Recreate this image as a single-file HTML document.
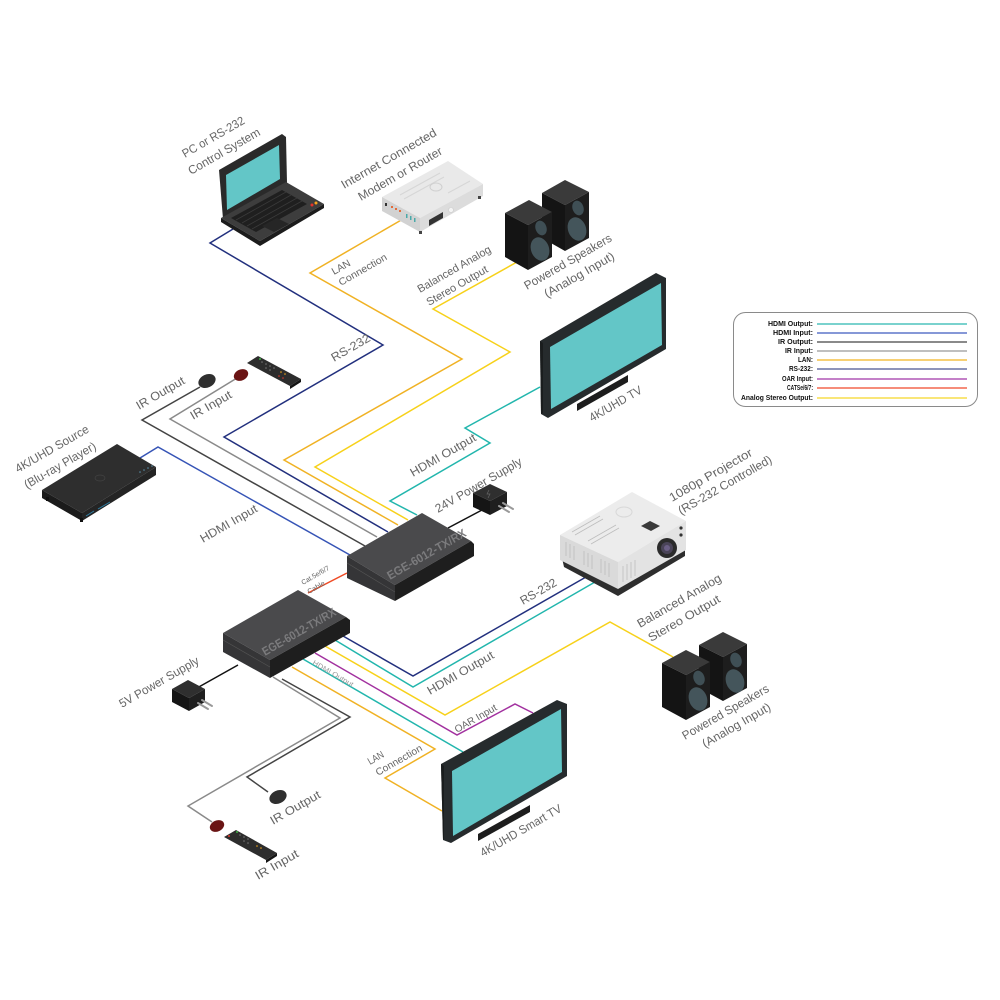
<!DOCTYPE html>
<html><head><meta charset="utf-8"><style>
html,body{margin:0;padding:0;background:#fff;}
svg{display:block;}
text{font-family:"Liberation Sans",sans-serif;}
</style></head><body>
<svg width="1000" height="1000" viewBox="0 0 1000 1000" xmlns="http://www.w3.org/2000/svg">
<rect width="1000" height="1000" fill="#fff"/>

<!-- ============ CONNECTOR LINES ============ -->
<g fill="none" stroke-width="1.5" stroke-linejoin="miter">
 <polyline points="233,229 210,243 383,345 224,437 388,532" stroke="#22307e"/>
 <polyline points="403,219 310,273 462,359 284,460 398,525" stroke="#f0b224"/>
 <polyline points="517,262 433,309 510,352 315,467 408,520" stroke="#f7d11a"/>
 <polyline points="540,387 465,428 490,443 390,501 417,515" stroke="#22b6ad"/>
 <polyline points="200,387 142,420 365,546" stroke="#444"/>
 <polyline points="237,378 170,419 377,537" stroke="#8a8a8a"/>
 <polyline points="140,458 158,447 350,555" stroke="#3654b6"/>
 <polyline points="308,593 347,573" stroke="#ef4a24"/>
 <polyline points="448,528 482,510" stroke="#111"/>
 <polyline points="343,636 413,676 586,577" stroke="#22307e"/>
 <polyline points="335,640 413,687 595,582" stroke="#22b6ad"/>
 <polyline points="325,646 445,715 610,622 673,657" stroke="#f7d11a"/>
 <polyline points="315,653 457,735 515,704 533,713" stroke="#a2319f"/>
 <polyline points="303,659 463,752" stroke="#22b6ad"/>
 <polyline points="292,667 435,749 385,778 442,811" stroke="#f0b224"/>
 <polyline points="282,679 350,717 247,777 268,792" stroke="#444"/>
 <polyline points="273,677 340,718 188,806 212,822" stroke="#8a8a8a"/>
 <polyline points="238,665 197,688" stroke="#111"/>
</g>

<!-- ============ LAPTOP ============ -->
<g>
 <polygon points="219,170 282,134 286,137 287,183 223,219" fill="#2a2a2a"/>
 <polygon points="226,175 279,145 280,179 227,210" fill="#63c6c7"/>
 <polygon points="221,218 286,182 324,204 260,241" fill="#3d3d3d"/>
 <polygon points="221,218 260,241 324,204 324,208 260,246 221,222" fill="#1c1c1c"/>
 <polygon points="231,218 282,190 307,204 256,232" fill="#1f1f1f"/>
 <g stroke="#3a3a3a" stroke-width="0.8">
  <line x1="236" y1="220" x2="286" y2="192"/><line x1="242" y1="223" x2="291" y2="195"/>
  <line x1="247" y1="226" x2="297" y2="198"/><line x1="252" y1="229" x2="302" y2="201"/>
 </g>
 <polygon points="262,226 277,218 289,224 274,232" fill="#262626"/>
 <circle cx="312" cy="205" r="1.5" fill="#e5332a"/><circle cx="316" cy="203" r="1.5" fill="#f5a21b"/>
</g>

<!-- ============ MODEM ============ -->
<g>
 <polygon points="382,197 448,161 483,184 420,218" fill="#e9e9e9"/>
 <polygon points="382,197 420,218 420,232 382,211" fill="#d2d2d2"/>
 <polygon points="420,218 483,184 483,196 420,232" fill="#dcdcdc"/>
 <g stroke="#d6d6d6" stroke-width="1"><line x1="400" y1="195" x2="440" y2="173"/><line x1="404" y1="199" x2="444" y2="177"/><line x1="448" y1="193" x2="470" y2="181"/></g>
 <ellipse cx="436" cy="187" rx="6" ry="4" fill="none" stroke="#cfcfcf"/>
 <rect x="385" y="203" width="2" height="3" fill="#333"/>
 <g fill="#e36b3a"><rect x="391" y="206" width="2" height="2"/><rect x="395" y="208" width="2" height="2"/><rect x="399" y="210" width="2" height="2"/></g>
 <g fill="#4aa9a9"><rect x="406" y="214" width="1.5" height="4"/><rect x="410" y="216" width="1.5" height="4"/><rect x="414" y="218" width="1.5" height="4"/></g>
 <polygon points="429,220 443,212 443,218 429,226" fill="#333"/>
 <circle cx="451" cy="210" r="2.5" fill="#f3f3f3" stroke="#ccc" stroke-width="0.6"/>
 <rect x="419" y="231" width="3" height="3" fill="#444"/><rect x="478" y="196" width="3" height="3" fill="#444"/>
</g>

<!-- ============ TOP SPEAKERS ============ -->
<g>
 <polygon points="542,193 565,180 589,192 565,205" fill="#3a3a3a"/>
 <polygon points="542,193 565,205 565,251 542,238" fill="#141414"/>
 <polygon points="565,205 589,192 589,238 565,251" fill="#1d1d1d"/>
 <ellipse cx="578" cy="208" rx="5.5" ry="7.5" transform="rotate(-20 578 208)" fill="#3f4f55"/>
 <ellipse cx="577" cy="229" rx="9" ry="12" transform="rotate(-20 577 229)" fill="#44555b"/>
 <polygon points="505,213 529,200 552,212 528,225" fill="#3a3a3a"/>
 <polygon points="505,213 528,225 528,270 505,257" fill="#141414"/>
 <polygon points="528,225 552,212 552,257 528,270" fill="#1d1d1d"/>
 <ellipse cx="541" cy="228" rx="5.5" ry="7.5" transform="rotate(-20 541 228)" fill="#3f4f55"/>
 <ellipse cx="540" cy="249" rx="9" ry="12" transform="rotate(-20 540 249)" fill="#44555b"/>
</g>

<!-- ============ TOP TV ============ -->
<g>
 <polygon points="577,404 628,375 628,382 577,411" fill="#1d1d1d"/>
 <polygon points="540,341 656,273 666,278 666,349 548,418 541,414" fill="#262b2d"/>
 <polygon points="540,341 543,343 543,413 541,414" fill="#1a1d1e"/>
 <polygon points="550,347 661,283 662,345 551,409" fill="#63c6c7"/>
</g>

<!-- ============ BLU-RAY ============ -->
<g>
 <polygon points="42,490 117,444 156,467 82,513" fill="#2e2e2e"/>
 <polygon points="42,490 82,513 82,521 42,498" fill="#1b1b1b"/>
 <polygon points="82,513 156,467 156,475 82,521" fill="#242424"/>
 <ellipse cx="100" cy="478" rx="5" ry="3" fill="none" stroke="#444" stroke-width="0.7"/>
 <g stroke="#2f7fa5" stroke-width="1"><line x1="86" y1="516" x2="94" y2="511"/><line x1="98" y1="509" x2="110" y2="502"/></g>
 <g fill="#5a8fa8"><circle cx="140" cy="472" r="0.8"/><circle cx="144" cy="470" r="0.8"/><circle cx="148" cy="468" r="0.8"/><circle cx="152" cy="466" r="0.8"/></g>
 <rect x="46" y="497" width="3" height="4" fill="#111"/><rect x="80" y="518" width="3" height="4" fill="#111"/>
</g>

<!-- ============ TOP IR DEVICES ============ -->
<g>
 <ellipse cx="207" cy="381" rx="9" ry="6.5" transform="rotate(-25 207 381)" fill="#2f2f2f"/>
 <ellipse cx="241" cy="375" rx="7.5" ry="5.5" transform="rotate(-25 241 375)" fill="#6a1414"/>
 <polygon points="247,363 258,356 301,379 290,386" fill="#2d2d2d"/>
 <polygon points="290,386 301,379 301,382 290,389" fill="#151515"/>
 <g fill="#777"><circle cx="262" cy="362" r="0.8"/><circle cx="266" cy="364" r="0.8"/><circle cx="270" cy="366" r="0.8"/><circle cx="266" cy="368" r="0.8"/><circle cx="270" cy="370" r="0.8"/><circle cx="274" cy="368" r="0.8"/></g>
 <circle cx="260" cy="359" r="1" fill="#3cb043"/>
 <g fill="#f2a71b"><circle cx="281" cy="372" r="0.8"/><circle cx="285" cy="374" r="0.8"/></g>
 <g fill="#e13a2b"><circle cx="279" cy="376" r="0.8"/><circle cx="283" cy="378" r="0.8"/></g>
</g>

<!-- ============ 24V POWER SUPPLY ============ -->
<g>
 <polygon points="473,493 490,484 507,492 490,501" fill="#2f2f2f"/>
 <polygon points="473,493 490,501 490,515 473,507" fill="#151515"/>
 <polygon points="490,501 507,492 507,506 490,515" fill="#1f1f1f"/>
 <g stroke="#999" stroke-width="2" stroke-linecap="round"><line x1="499" y1="506" x2="509" y2="512"/><line x1="503" y1="503" x2="513" y2="509"/></g>
 <path d="M489 490 l-2 4 l3 0 l-2 4" stroke="#666" fill="none" stroke-width="0.7"/>
</g>

<!-- ============ TOP EGE BOX ============ -->
<g>
 <polygon points="347,556 422,513 471,541 395,585" fill="#4a4a4c"/>
 <polygon points="347,556 395,585 395,601 347,578" fill="#353537"/>
 <polygon points="395,585 471,541 474,544 474,556 395,601" fill="#1e1e1e"/>
 <line x1="347" y1="563" x2="395" y2="592" stroke="#555" stroke-width="0.6"/>
 <text x="390" y="580" font-size="12" font-weight="bold" fill="#7b7b7d" textLength="89" lengthAdjust="spacingAndGlyphs" transform="rotate(-30 390 580)">EGE-6012-TX/RX</text>
</g>

<!-- ============ PROJECTOR ============ -->
<g>
 <polygon points="562,558 618,588 685,549 685,556 618,596 564,567" fill="#2e2e2e"/>
 <polygon points="560,535 632,492 686,521 618,562" fill="#ececec"/>
 <polygon points="560,535 618,562 618,589 560,560" fill="#dadada"/>
 <polygon points="618,562 686,521 686,550 618,589" fill="#e3e3e3"/>
 <ellipse cx="624" cy="512" rx="8" ry="5" fill="none" stroke="#d8d8d8"/>
 <polygon points="641,526 650,521 660,526 651,531" fill="#3a3a3a"/>
 <g stroke="#bdbdbd" stroke-width="0.8">
  <line x1="572" y1="532" x2="600" y2="516"/><line x1="575" y1="535" x2="603" y2="519"/>
  <line x1="588" y1="541" x2="616" y2="525"/><line x1="591" y1="544" x2="619" y2="528"/>
  <line x1="566" y1="542" x2="566" y2="556"/><line x1="570" y1="544" x2="570" y2="558"/><line x1="574" y1="546" x2="574" y2="560"/>
  <line x1="584" y1="551" x2="584" y2="565"/><line x1="588" y1="553" x2="588" y2="567"/><line x1="592" y1="555" x2="592" y2="569"/>
  <line x1="601" y1="559" x2="601" y2="573"/><line x1="605" y1="561" x2="605" y2="575"/><line x1="609" y1="563" x2="609" y2="577"/>
  <line x1="623" y1="566" x2="623" y2="582"/><line x1="627" y1="564" x2="627" y2="580"/><line x1="631" y1="562" x2="631" y2="578"/><line x1="635" y1="560" x2="635" y2="576"/>
 </g>
 <circle cx="667" cy="548" r="10" fill="#2b2b2b"/>
 <circle cx="667" cy="548" r="6" fill="#4a4458"/>
 <circle cx="667" cy="548" r="3" fill="#6b5f85"/>
 <circle cx="681" cy="528" r="1.6" fill="#333"/><circle cx="681" cy="535" r="1.6" fill="#333"/>
</g>

<!-- ============ BOTTOM EGE BOX ============ -->
<g>
 <polygon points="223,633 298,590 346,617 270,660" fill="#4a4a4c"/>
 <polygon points="223,633 270,660 270,678 223,652" fill="#353537"/>
 <polygon points="270,660 346,617 350,620 350,633 270,678" fill="#1e1e1e"/>
 <line x1="223" y1="640" x2="270" y2="667" stroke="#555" stroke-width="0.6"/>
 <text x="265" y="656" font-size="12" font-weight="bold" fill="#7b7b7d" textLength="83" lengthAdjust="spacingAndGlyphs" transform="rotate(-30 265 656)">EGE-6012-TX/RX</text>
</g>

<!-- ============ 5V POWER SUPPLY ============ -->
<g>
 <polygon points="172,689 188,680 205,689 189,698" fill="#2f2f2f"/>
 <polygon points="172,689 189,698 189,711 172,702" fill="#151515"/>
 <polygon points="189,698 205,689 205,702 189,711" fill="#1f1f1f"/>
 <g stroke="#999" stroke-width="2" stroke-linecap="round"><line x1="198" y1="703" x2="208" y2="709"/><line x1="202" y1="700" x2="212" y2="706"/></g>
</g>

<!-- ============ BOTTOM SPEAKERS ============ -->
<g>
 <polygon points="699,645 723,632 747,644 723,657" fill="#3a3a3a"/>
 <polygon points="699,645 723,657 723,701 699,688" fill="#141414"/>
 <polygon points="723,657 747,644 747,688 723,701" fill="#1d1d1d"/>
 <ellipse cx="736" cy="660" rx="5.5" ry="7.5" transform="rotate(-20 736 660)" fill="#3f4f55"/>
 <ellipse cx="735" cy="681" rx="9" ry="12" transform="rotate(-20 735 681)" fill="#44555b"/>
 <polygon points="662,663 686,650 710,662 686,675" fill="#3a3a3a"/>
 <polygon points="662,663 686,675 686,720 662,707" fill="#141414"/>
 <polygon points="686,675 710,662 710,707 686,720" fill="#1d1d1d"/>
 <ellipse cx="699" cy="678" rx="5.5" ry="7.5" transform="rotate(-20 699 678)" fill="#3f4f55"/>
 <ellipse cx="698" cy="699" rx="9" ry="12" transform="rotate(-20 698 699)" fill="#44555b"/>
</g>

<!-- ============ SMART TV ============ -->
<g>
 <polygon points="478,834 530,805 530,812 478,841" fill="#1d1d1d"/>
 <polygon points="441,764 557,700 567,704 567,776 451,843 443,840" fill="#262b2d"/>
 <polygon points="441,764 444,766 444,838 443,840" fill="#1a1d1e"/>
 <polygon points="452,771 561,709 562,772 453,836" fill="#63c6c7"/>
</g>

<!-- ============ BOTTOM IR DEVICES ============ -->
<g>
 <ellipse cx="278" cy="797" rx="9" ry="6.5" transform="rotate(-25 278 797)" fill="#2f2f2f"/>
 <ellipse cx="217" cy="826" rx="7.5" ry="5.5" transform="rotate(-25 217 826)" fill="#6a1414"/>
 <polygon points="224,837 236,830 277,853 266,860" fill="#2d2d2d"/>
 <polygon points="266,860 277,853 277,856 266,863" fill="#151515"/>
 <g fill="#777"><circle cx="240" cy="835" r="0.8"/><circle cx="244" cy="837" r="0.8"/><circle cx="248" cy="839" r="0.8"/><circle cx="244" cy="841" r="0.8"/><circle cx="248" cy="843" r="0.8"/></g>
 <circle cx="237" cy="832" r="1" fill="#3cb043"/><circle cx="229" cy="836" r="1" fill="#e13a2b"/>
 <g fill="#f2a71b"><circle cx="257" cy="846" r="0.8"/><circle cx="261" cy="848" r="0.8"/></g>
</g>

<!-- ============ LABELS ============ -->
<g font-size="12" fill="#666">
 <text x="185" y="158" textLength="70" lengthAdjust="spacingAndGlyphs" transform="rotate(-30 185 158)">PC or RS-232</text>
 <text x="191" y="175" textLength="81" lengthAdjust="spacingAndGlyphs" transform="rotate(-30 191 175)">Control System</text>
 <text x="344" y="189" textLength="108" lengthAdjust="spacingAndGlyphs" transform="rotate(-30 344 189)">Internet Connected</text>
 <text x="361" y="201" textLength="95" lengthAdjust="spacingAndGlyphs" transform="rotate(-30 361 201)">Modem or Router</text>
 <text x="334" y="275" font-size="10" textLength="20" lengthAdjust="spacingAndGlyphs" transform="rotate(-30 334 275)">LAN</text>
 <text x="341" y="286" font-size="10" textLength="54" lengthAdjust="spacingAndGlyphs" transform="rotate(-30 341 286)">Connection</text>
 <text x="420" y="293" font-size="11" textLength="83" lengthAdjust="spacingAndGlyphs" transform="rotate(-30 420 293)">Balanced Analog</text>
 <text x="429" y="306" font-size="11" textLength="69" lengthAdjust="spacingAndGlyphs" transform="rotate(-30 429 306)">Stereo Output</text>
 <text x="527" y="290" textLength="99" lengthAdjust="spacingAndGlyphs" transform="rotate(-30 527 290)">Powered Speakers</text>
 <text x="547" y="298" textLength="79" lengthAdjust="spacingAndGlyphs" transform="rotate(-30 547 298)">(Analog Input)</text>
 <text x="334" y="362" textLength="43" lengthAdjust="spacingAndGlyphs" transform="rotate(-30 334 362)">RS-232</text>
 <text x="139" y="410" textLength="54" lengthAdjust="spacingAndGlyphs" transform="rotate(-30 139 410)">IR Output</text>
 <text x="193" y="420" textLength="46" lengthAdjust="spacingAndGlyphs" transform="rotate(-30 193 420)">IR Input</text>
 <text x="18" y="473" textLength="83" lengthAdjust="spacingAndGlyphs" transform="rotate(-30 18 473)">4K/UHD Source</text>
 <text x="27" y="489" textLength="81" lengthAdjust="spacingAndGlyphs" transform="rotate(-30 27 489)">(Blu-ray Player)</text>
 <text x="203" y="543" textLength="64" lengthAdjust="spacingAndGlyphs" transform="rotate(-30 203 543)">HDMI Input</text>
 <text x="413" y="477" textLength="74" lengthAdjust="spacingAndGlyphs" transform="rotate(-30 413 477)">HDMI Output</text>
 <text x="438" y="513" textLength="98" lengthAdjust="spacingAndGlyphs" transform="rotate(-30 438 513)">24V Power Supply</text>
 <text x="592" y="422" textLength="59" lengthAdjust="spacingAndGlyphs" transform="rotate(-30 592 422)">4K/UHD TV</text>
 <text x="672" y="502" textLength="94" lengthAdjust="spacingAndGlyphs" transform="rotate(-30 672 502)">1080p Projector</text>
 <text x="681" y="515" textLength="106" lengthAdjust="spacingAndGlyphs" transform="rotate(-30 681 515)">(RS-232 Controlled)</text>
 <text x="523" y="605" textLength="40" lengthAdjust="spacingAndGlyphs" transform="rotate(-30 523 605)">RS-232</text>
 <text x="640" y="628" textLength="95" lengthAdjust="spacingAndGlyphs" transform="rotate(-30 640 628)">Balanced Analog</text>
 <text x="651" y="642" textLength="81" lengthAdjust="spacingAndGlyphs" transform="rotate(-30 651 642)">Stereo Output</text>
 <text x="685" y="740" textLength="98" lengthAdjust="spacingAndGlyphs" transform="rotate(-30 685 740)">Powered Speakers</text>
 <text x="705" y="748" textLength="77" lengthAdjust="spacingAndGlyphs" transform="rotate(-30 705 748)">(Analog Input)</text>
 <text x="430" y="695" textLength="75" lengthAdjust="spacingAndGlyphs" transform="rotate(-30 430 695)">HDMI Output</text>
 <text x="457" y="733" font-size="10" textLength="47" lengthAdjust="spacingAndGlyphs" transform="rotate(-30 457 733)">OAR Input</text>
 <text x="122" y="708" textLength="90" lengthAdjust="spacingAndGlyphs" transform="rotate(-30 122 708)">5V Power Supply</text>
 <text x="370" y="765" font-size="10" textLength="17" lengthAdjust="spacingAndGlyphs" transform="rotate(-30 370 765)">LAN</text>
 <text x="378" y="776" font-size="10" textLength="52" lengthAdjust="spacingAndGlyphs" transform="rotate(-30 378 776)">Connection</text>
 <text x="273" y="825" textLength="56" lengthAdjust="spacingAndGlyphs" transform="rotate(-30 273 825)">IR Output</text>
 <text x="258" y="880" textLength="48" lengthAdjust="spacingAndGlyphs" transform="rotate(-30 258 880)">IR Input</text>
 <text x="483" y="857" textLength="92" lengthAdjust="spacingAndGlyphs" transform="rotate(-30 483 857)">4K/UHD Smart TV</text>
 <text x="312" y="664" font-size="7" fill="#999" textLength="46" lengthAdjust="spacingAndGlyphs" transform="rotate(30 312 664)">HDMI Output</text>
 <text x="303" y="585" font-size="7" textLength="31" lengthAdjust="spacingAndGlyphs" transform="rotate(-30 303 585)">Cat.5e/6/7</text>
 <text x="309" y="594" font-size="7" textLength="19" lengthAdjust="spacingAndGlyphs" transform="rotate(-30 309 594)">Cable</text>
</g>

<!-- ============ LEGEND ============ -->
<g>
 <rect x="733.5" y="312.5" width="244" height="94" rx="12" ry="12" fill="#fff" stroke="#8a8a8a" stroke-width="1"/>
 <g font-size="7" font-weight="bold" fill="#111" text-anchor="end">
  <text x="813" y="326" textLength="45" lengthAdjust="spacingAndGlyphs">HDMI Output:</text>
  <text x="813" y="335" textLength="40" lengthAdjust="spacingAndGlyphs">HDMI Input:</text>
  <text x="813" y="344" textLength="35" lengthAdjust="spacingAndGlyphs">IR Output:</text>
  <text x="813" y="353" textLength="28" lengthAdjust="spacingAndGlyphs">IR Input:</text>
  <text x="813" y="362" textLength="15" lengthAdjust="spacingAndGlyphs">LAN:</text>
  <text x="813" y="371" textLength="24" lengthAdjust="spacingAndGlyphs">RS-232:</text>
  <text x="813" y="381" textLength="31" lengthAdjust="spacingAndGlyphs">OAR Input:</text>
  <text x="813" y="390" textLength="26" lengthAdjust="spacingAndGlyphs">CATSe/6/7:</text>
  <text x="813" y="400" textLength="72" lengthAdjust="spacingAndGlyphs">Analog Stereo Output:</text>
 </g>
 <g stroke-width="1.2">
  <line x1="817" y1="324" x2="967" y2="324" stroke="#2bb8b0"/>
  <line x1="817" y1="333" x2="967" y2="333" stroke="#3f5bbf"/>
  <line x1="817" y1="342" x2="967" y2="342" stroke="#444"/>
  <line x1="817" y1="351" x2="967" y2="351" stroke="#999"/>
  <line x1="817" y1="360" x2="967" y2="360" stroke="#f2b321"/>
  <line x1="817" y1="369" x2="967" y2="369" stroke="#4a5590"/>
  <line x1="817" y1="379" x2="967" y2="379" stroke="#a035a8"/>
  <line x1="817" y1="388" x2="967" y2="388" stroke="#f0492a"/>
  <line x1="817" y1="398" x2="967" y2="398" stroke="#f5d727"/>
 </g>
</g>
</svg>
</body></html>
